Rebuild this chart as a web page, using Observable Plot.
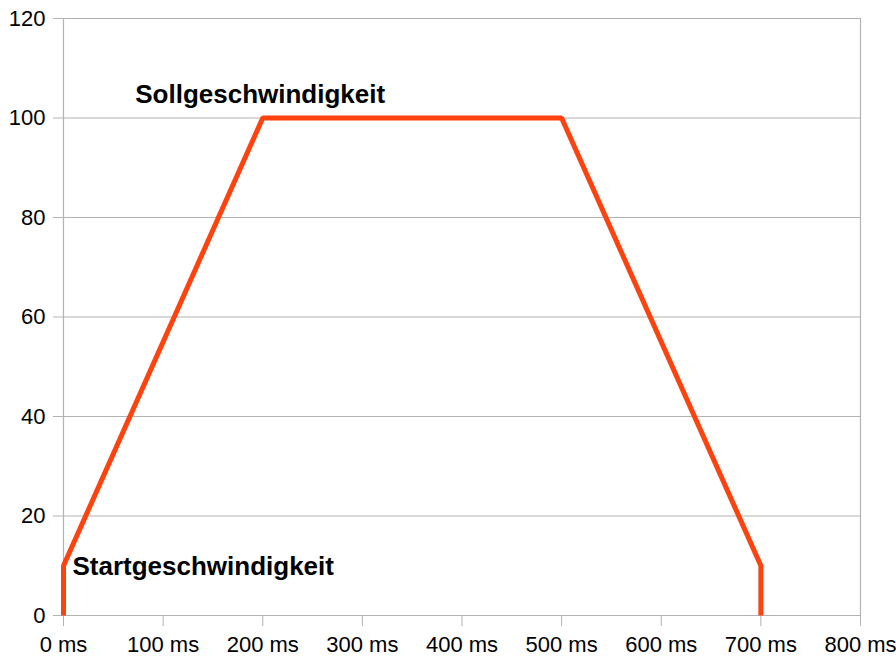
<!DOCTYPE html>
<html>
<head>
<meta charset="utf-8">
<script src="https://cdn.jsdelivr.net/npm/d3@7"></script>
<script src="https://cdn.jsdelivr.net/npm/@observablehq/plot@0.6"></script>
<style>
  html, body { margin: 0; padding: 0; background: #fff; }
  svg { display: block; }
</style>
</head>
<body>
<div id="chart"></div>
<script>
const timeMs = [0, 0, 200, 500, 700, 700];
const speed = [0, 10, 100, 100, 10, 0];
const xTicks = [0, 100, 200, 300, 400, 500, 600, 700, 800];
const yTicks = [0, 20, 40, 60, 80, 100, 120];
const labelTexts = ["Sollgeschwindigkeit", "Startgeschwindigkeit"];
const labelX = [72, 9];
const labelY = [104.6, 9.8];

const lineData = timeMs.map((t, i) => ({t, v: speed[i]}));
const labels = labelTexts.map((s, i) => ({s, x: labelX[i], y: labelY[i]}));

const gridColor = "#b3b3b3";

const chart = Plot.plot({
  width: 896,
  height: 658,
  marginLeft: 63,
  marginRight: 36,
  marginTop: 18,
  marginBottom: 43,
  style: {fontFamily: "'Liberation Sans', Arial, sans-serif", fontSize: "22px", color: "#000", background: "#fff", overflow: "visible"},
  x: {domain: [0, 800], ticks: xTicks, tickFormat: d => `${d} ms`, label: null},
  y: {domain: [0, 120], ticks: yTicks, label: null},
  marks: [
    Plot.ruleY(yTicks, {stroke: gridColor, strokeWidth: 1}),
    Plot.ruleX([0, 800], {stroke: gridColor, strokeWidth: 1.2}),
    Plot.axisY({ticks: yTicks, tickSize: 10, tickPadding: 8, stroke: gridColor, fontSize: 22, label: null, strokeOpacity: 1}),
    Plot.axisX({ticks: xTicks, tickSize: 11, tickPadding: 10, stroke: gridColor, tickFormat: d => `${d} ms`, fontSize: 22, label: null, strokeOpacity: 1}),
    Plot.line(lineData, {x: "t", y: "v", stroke: "#ff420e", strokeWidth: 5, strokeLinejoin: "miter", strokeLinecap: "butt"}),
    Plot.text(labels, {x: "x", y: "y", text: "s", textAnchor: "start", fontWeight: "bold", fontSize: 26, fill: "#000"})
  ]
});
document.getElementById("chart").appendChild(chart);
</script>
</body>
</html>
